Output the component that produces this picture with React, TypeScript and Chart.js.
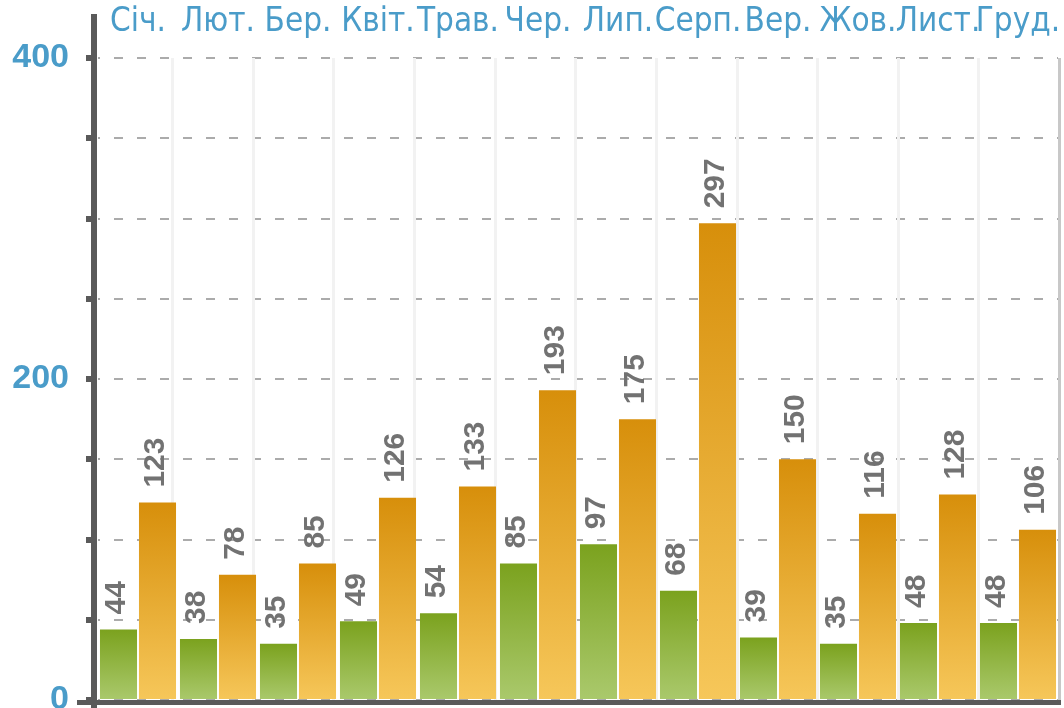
import React, { useEffect, useRef } from "react";
import { Chart, registerables } from "chart.js";

Chart.register(...registerables);

const monthLabels = ["Січ.", "Лют.", "Бер.", "Квіт.", "Трав.", "Чер.", "Лип.", "Серп.", "Вер.", "Жов.", "Лист.", "Груд."];
const greenValues = [44, 38, 35, 49, 54, 85, 97, 68, 39, 35, 48, 48];
const orangeValues = [123, 78, 85, 126, 133, 193, 175, 297, 150, 116, 128, 106];
const yLabelValues = [0, 200, 400];
const yMin = 0;
const yMax = 400;
const yStep = 50;

const BLUE = "#4a9cc9";
const AXIS = "#5a5a5a";

function gradientFill(colors: [string, string]) {
  return (ctx: any) => {
    const chart = ctx.chart;
    if (!chart.chartArea || ctx.type !== "data") return colors[0];
    const y = chart.scales.y;
    const top = y.getPixelForValue(ctx.raw);
    const bottom = y.getPixelForValue(0);
    if (!isFinite(top) || !isFinite(bottom) || top === bottom) return colors[0];
    const g = chart.ctx.createLinearGradient(0, top, 0, bottom);
    g.addColorStop(0, colors[0]);
    g.addColorStop(1, colors[1]);
    return g;
  };
}

const decorPlugin = {
  id: "decor",
  beforeDatasetsDraw(chart: any) {
    const { ctx, chartArea } = chart;
    const left0 = chartArea.left - 6;
    const right0 = chartArea.right + 1.5;
    const n = monthLabels.length;
    ctx.save();
    for (let i = 1; i <= n; i++) {
      const x = left0 + (i * (right0 - left0)) / n;
      ctx.fillStyle = i === n ? "#c8c8c8" : "#f2f2f2";
      ctx.fillRect(Math.round(x - 1.5), chartArea.top, 3, chartArea.bottom - chartArea.top);
    }
    ctx.restore();
  },
  afterDatasetsDraw(chart: any) {
    const { ctx, chartArea } = chart;
    // value labels
    ctx.save();
    ctx.fillStyle = "#727272";
    ctx.font = "bold 30px 'Liberation Sans', Arial, sans-serif";
    ctx.textAlign = "left";
    ctx.textBaseline = "middle";
    chart.data.datasets.forEach((ds: any, di: number) => {
      const meta = chart.getDatasetMeta(di);
      meta.data.forEach((bar: any, i: number) => {
        ctx.save();
        ctx.translate(bar.x - 2, bar.y - 15);
        ctx.rotate(-Math.PI / 2);
        ctx.fillText(String(ds.data[i]), 0, 0);
        ctx.restore();
      });
    });
    ctx.restore();
    // axes lines
    ctx.save();
    ctx.fillStyle = AXIS;
    const axisX = chartArea.left - 7;
    ctx.fillRect(axisX, 14, 6, chart.height - 14);
    ctx.fillRect(77, chartArea.bottom, 1061 - 77, 5);
    const y = chart.scales.y;
    for (let v = yMin; v <= yMax; v += yStep) {
      const py = y.getPixelForValue(v);
      ctx.fillRect(axisX - 5, Math.round(py - 3), 5, 6);
    }
    ctx.restore();
  },
};

export default function App() {
  const ref = useRef<HTMLCanvasElement | null>(null);
  useEffect(() => {
    if (!ref.current) return;
    const chart = new Chart(ref.current, {
      type: "bar",
      data: {
        labels: monthLabels,
        datasets: [
          {
            label: "green",
            data: greenValues,
            backgroundColor: gradientFill(["#7ba21e", "#aac96c"]),
            borderWidth: 0,
            categoryPercentage: 0.975,
            barPercentage: 0.95,
          },
          {
            label: "orange",
            data: orangeValues,
            backgroundColor: gradientFill(["#d78f0b", "#f6c75a"]),
            borderWidth: 0,
            categoryPercentage: 0.975,
            barPercentage: 0.95,
          },
        ],
      },
      options: {
        responsive: false,
        animation: false,
        devicePixelRatio: 1,
        layout: { padding: { left: 0, right: 6, top: 0, bottom: 8 } },
        plugins: { legend: { display: false }, tooltip: { enabled: false } },
        scales: {
          x: {
            position: "top",
            grid: { display: false },
            border: { display: false },
            ticks: {
              color: BLUE,
              font: { family: "'Liberation Sans Narrow', 'DejaVu Sans Condensed', 'Liberation Sans', sans-serif", size: 33 },
              padding: 8,
              maxRotation: 0,
              minRotation: 0,
              autoSkip: false,
            },
            afterFit: (s: any) => {
              s.height = 58;
              s.paddingLeft = 0;
              s.paddingRight = 0;
              s.paddingTop = 0;
              s.paddingBottom = 0;
            },
          },
          y: {
            min: yMin,
            max: yMax,
            grid: { color: "#ababab", lineWidth: 2, drawTicks: false },
            border: { display: false, dash: [9, 14], dashOffset: 7 },
            ticks: {
              stepSize: yStep,
              autoSkip: false,
              color: BLUE,
              padding: 29,
              font: { family: "'Liberation Sans', Arial, sans-serif", size: 34, weight: "bold" },
              callback: (v: any) => (yLabelValues.includes(Number(v)) ? String(v) : ""),
            },
            afterFit: (s: any) => {
              s.width = 98;
              s.paddingTop = 0;
              s.paddingBottom = 0;
              s.paddingLeft = 0;
              s.paddingRight = 0;
            },
          },
        },
      },
      plugins: [decorPlugin],
    });
    return () => chart.destroy();
  }, []);
  return (
    <div style={{ position: "absolute", left: 0, top: 0, width: 1064, height: 708, background: "#fff" }}>
      <canvas ref={ref} width={1064} height={708} style={{ width: 1064, height: 708, display: "block" }} />
    </div>
  );
}
